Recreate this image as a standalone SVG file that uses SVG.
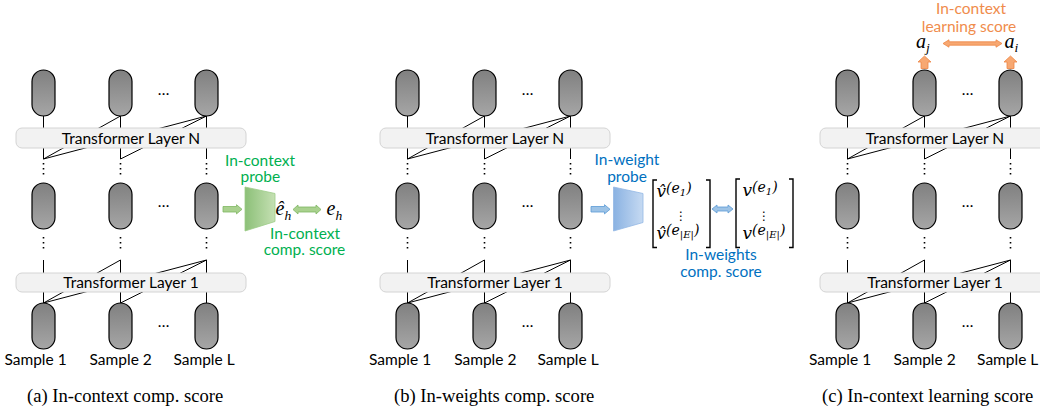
<svg xmlns="http://www.w3.org/2000/svg" width="1040" height="408" viewBox="0 0 1040 408">
<defs>
<linearGradient id="pillG" x1="0" y1="0" x2="0" y2="1"><stop offset="0" stop-color="#808080"/><stop offset="1" stop-color="#a6a6a6"/></linearGradient>
<linearGradient id="greenG" x1="0" y1="0" x2="1" y2="0"><stop offset="0" stop-color="#8cc078"/><stop offset="1" stop-color="#c5e0b3"/></linearGradient>
<linearGradient id="blueG" x1="0" y1="0" x2="1" y2="0"><stop offset="0" stop-color="#8ab2e2"/><stop offset="1" stop-color="#c6daf2"/></linearGradient>
</defs>
<style>
.pill{fill:url(#pillG);stroke:#000;stroke-width:1.2}
.layer{fill:#f2f2f2;stroke:#d4d4d4;stroke-width:1}
.ln{fill:none;stroke:#000;stroke-width:1}
.dots{fill:none;stroke:#000;stroke-width:1.6;stroke-dasharray:1.5 3.5}
.t{font-family:Lato,"Liberation Sans",sans-serif;font-size:15.5px;fill:#000}
.mid{text-anchor:middle}
.green{fill:#00b050}
.blue{fill:#0070c0}
.orange{fill:#f08c4c}
.m{font-family:"Liberation Serif","DejaVu Serif",serif;font-style:italic;fill:#000}
.mx{font-family:"DejaVu Serif",serif;font-style:italic;fill:#000}
.vd{font-family:"DejaVu Sans",sans-serif;font-size:12px;text-anchor:middle;fill:#000}
.cap{font-family:"Liberation Serif",serif;font-size:18.6px;fill:#000}
.garrow{fill:#a9d18e;stroke:#7fb662;stroke-width:0.8}
.barrow{fill:#9dc3e6;stroke:#5b9bd5;stroke-width:0.8}
.oarrow{fill:#f7a872;stroke:#ee8544;stroke-width:0.8}
.br{fill:none;stroke:#000;stroke-width:1.4}
</style>

<!-- ===== Panel A ===== -->
<g id="panel-a">
 <g id="a-connectors">
  <path class="ln" d="M43.5 116V159M120.5 116V159M120.5 116L43.5 159M206.5 116V159M206.5 116L43.5 159M206.5 116L120.5 159"/>
  <path class="dots" d="M43.5 163V175M120.5 163V175M206.5 163V175M43.5 237V249M120.5 237V249M206.5 237V249"/>
  <path class="ln" d="M43.5 260V303M120.5 260V303M206.5 260V303M120.5 260L43.5 303M206.5 260L43.5 303M206.5 260L120.5 303"/>
 </g>
 <g id="a-layerN"><rect class="layer" x="16" y="128" width="230" height="20" rx="6"/><text class="t mid" x="131" y="143.5">Transformer Layer N</text></g>
 <g id="a-layer1"><rect class="layer" x="16" y="273" width="230" height="19" rx="6"/><text class="t mid" x="131" y="288">Transformer Layer 1</text></g>
 <g id="a-top1"><rect class="pill" x="32" y="70" width="23" height="46" rx="11.5"/></g>
 <g id="a-top2"><rect class="pill" x="109" y="70" width="23" height="46" rx="11.5"/></g>
 <g id="a-top3"><rect class="pill" x="195" y="70" width="23" height="46" rx="11.5"/></g>
 <g id="a-mid1"><rect class="pill" x="32" y="183" width="23" height="46" rx="11.5"/></g>
 <g id="a-mid2"><rect class="pill" x="109" y="183" width="23" height="46" rx="11.5"/></g>
 <g id="a-mid3"><rect class="pill" x="195" y="183" width="23" height="46" rx="11.5"/></g>
 <g id="a-bot1"><rect class="pill" x="32" y="303" width="23" height="46" rx="11.5"/><text class="t mid" x="35.5" y="365">Sample 1</text></g>
 <g id="a-bot2"><rect class="pill" x="109" y="303" width="23" height="46" rx="11.5"/><text class="t mid" x="120.7" y="365">Sample 2</text></g>
 <g id="a-bot3"><rect class="pill" x="195" y="303" width="23" height="46" rx="11.5"/><text class="t mid" x="204" y="365">Sample L</text></g>
 <g id="a-ellipsis"><text class="t mid" x="163.5" y="95">…</text><text class="t mid" x="163.5" y="207">…</text><text class="t mid" x="163.5" y="327">…</text></g>
</g>
<g id="a-probe">
 <polygon points="245,187 275,193.5 275,221.5 245,231" fill="url(#greenG)" stroke="#9ccb86" stroke-width="0.8"/>
 <text class="t mid green" x="260" y="165.5">In-context</text>
 <text class="t mid green" x="260.3" y="181.5">probe</text>
</g>
<g id="a-arrows">
 <path class="garrow" d="M223 206.5H236.5V204.7L242 209.3L236.5 213.9V212H223Z"/>
 <path class="garrow" d="M293 209.5L298 205V207H316V205L321 209.5L316 214V212H298V214Z"/>
</g>
<g id="a-ehat"><text class="m" x="275.5" y="215" font-size="20">ê<tspan font-size="13.5" dy="5">h</tspan></text></g>
<g id="a-e"><text class="m" x="326.5" y="215" font-size="20">e<tspan font-size="13.5" dy="5">h</tspan></text></g>
<g id="a-score"><text class="t mid green" x="305" y="238.5">In-context</text><text class="t mid green" x="304.5" y="254.5">comp. score</text></g>
<g id="a-caption"><text class="cap" x="27" y="402">(a) In-context comp. score</text></g>

<!-- ===== Panel B ===== -->
<g id="panel-b" transform="translate(364,0)">
 <g id="b-connectors">
  <path class="ln" d="M43.5 116V159M120.5 116V159M120.5 116L43.5 159M206.5 116V159M206.5 116L43.5 159M206.5 116L120.5 159"/>
  <path class="dots" d="M43.5 163V175M120.5 163V175M206.5 163V175M43.5 237V249M120.5 237V249M206.5 237V249"/>
  <path class="ln" d="M43.5 260V303M120.5 260V303M206.5 260V303M120.5 260L43.5 303M206.5 260L43.5 303M206.5 260L120.5 303"/>
 </g>
 <g id="b-layerN"><rect class="layer" x="16" y="128" width="230" height="20" rx="6"/><text class="t mid" x="131" y="143.5">Transformer Layer N</text></g>
 <g id="b-layer1"><rect class="layer" x="16" y="273" width="230" height="19" rx="6"/><text class="t mid" x="131" y="288">Transformer Layer 1</text></g>
 <g id="b-top1"><rect class="pill" x="32" y="70" width="23" height="46" rx="11.5"/></g>
 <g id="b-top2"><rect class="pill" x="109" y="70" width="23" height="46" rx="11.5"/></g>
 <g id="b-top3"><rect class="pill" x="195" y="70" width="23" height="46" rx="11.5"/></g>
 <g id="b-mid1"><rect class="pill" x="32" y="183" width="23" height="46" rx="11.5"/></g>
 <g id="b-mid2"><rect class="pill" x="109" y="183" width="23" height="46" rx="11.5"/></g>
 <g id="b-mid3"><rect class="pill" x="195" y="183" width="23" height="46" rx="11.5"/></g>
 <g id="b-bot1"><rect class="pill" x="32" y="303" width="23" height="46" rx="11.5"/><text class="t mid" x="36" y="365">Sample 1</text></g>
 <g id="b-bot2"><rect class="pill" x="109" y="303" width="23" height="46" rx="11.5"/><text class="t mid" x="121.3" y="365">Sample 2</text></g>
 <g id="b-bot3"><rect class="pill" x="195" y="303" width="23" height="46" rx="11.5"/><text class="t mid" x="204" y="365">Sample L</text></g>
 <g id="b-ellipsis"><text class="t mid" x="163.5" y="95">…</text><text class="t mid" x="163.5" y="207">…</text><text class="t mid" x="163.5" y="327">…</text></g>
</g>
<g id="b-probe">
 <polygon points="613.5,187 643,193.5 643,222.5 613.5,231" fill="url(#blueG)" stroke="#93b8e4" stroke-width="0.8"/>
 <text class="t mid blue" x="627" y="165">In-weight</text>
 <text class="t mid blue" x="627" y="181.5">probe</text>
</g>
<g id="b-arrows">
 <path class="barrow" d="M591 206.5H604.5V204.7L610 209.3L604.5 213.9V212H591Z"/>
 <path class="barrow" d="M712 209L717 205V207H728V205L733 209L728 213V211H717V213Z"/>
</g>
<g id="b-pred">
 <path class="br" d="M657 180H653V247.5H657M706 180H710V247.5H706"/>
 <text class="mx" x="656.5" y="197" font-size="17">v̂<tspan font-size="14" dy="-4">(e</tspan><tspan font-size="10" dy="3">1</tspan><tspan font-size="14" dy="-3">)</tspan></text>
 <text class="vd" x="681" y="220">⋮</text>
 <text class="mx" x="656.5" y="238.5" font-size="17">v̂<tspan font-size="14" dy="-4">(e</tspan><tspan font-size="10" dy="3">|E|</tspan><tspan font-size="14" dy="-3">)</tspan></text>
</g>
<g id="b-true">
 <path class="br" d="M740 179H736V247.5H740M789 179H793V247.5H789"/>
 <text class="mx" x="742.5" y="196" font-size="17">v<tspan font-size="14" dy="-4">(e</tspan><tspan font-size="10" dy="3">1</tspan><tspan font-size="14" dy="-3">)</tspan></text>
 <text class="vd" x="764" y="220">⋮</text>
 <text class="mx" x="742.5" y="238.5" font-size="17">v<tspan font-size="14" dy="-4">(e</tspan><tspan font-size="10" dy="3">|E|</tspan><tspan font-size="14" dy="-3">)</tspan></text>
</g>
<g id="b-score"><text class="t mid blue" x="721" y="259.5">In-weights</text><text class="t mid blue" x="721" y="276.5">comp. score</text></g>
<g id="b-caption"><text class="cap" x="394" y="402">(b) In-weights comp. score</text></g>

<!-- ===== Panel C ===== -->
<g id="panel-c" transform="translate(804,0)">
 <g id="c-connectors">
  <path class="ln" d="M43.5 116V159M120.5 116V159M120.5 116L43.5 159M206.5 116V159M206.5 116L43.5 159M206.5 116L120.5 159"/>
  <path class="dots" d="M43.5 163V175M120.5 163V175M206.5 163V175M43.5 237V249M120.5 237V249M206.5 237V249"/>
  <path class="ln" d="M43.5 260V303M120.5 260V303M206.5 260V303M120.5 260L43.5 303M206.5 260L43.5 303M206.5 260L120.5 303"/>
 </g>
 <g id="c-layerN"><rect class="layer" x="16" y="128" width="230" height="20" rx="6"/><text class="t mid" x="131" y="143.5">Transformer Layer N</text></g>
 <g id="c-layer1"><rect class="layer" x="16" y="273" width="230" height="19" rx="6"/><text class="t mid" x="131" y="288">Transformer Layer 1</text></g>
 <g id="c-top1"><rect class="pill" x="32" y="70" width="23" height="46" rx="11.5"/></g>
 <g id="c-top2"><rect class="pill" x="109" y="70" width="23" height="46" rx="11.5"/></g>
 <g id="c-top3"><rect class="pill" x="195" y="70" width="23" height="46" rx="11.5"/></g>
 <g id="c-mid1"><rect class="pill" x="32" y="183" width="23" height="46" rx="11.5"/></g>
 <g id="c-mid2"><rect class="pill" x="109" y="183" width="23" height="46" rx="11.5"/></g>
 <g id="c-mid3"><rect class="pill" x="195" y="183" width="23" height="46" rx="11.5"/></g>
 <g id="c-bot1"><rect class="pill" x="32" y="303" width="23" height="46" rx="11.5"/><text class="t mid" x="36" y="365">Sample 1</text></g>
 <g id="c-bot2"><rect class="pill" x="109" y="303" width="23" height="46" rx="11.5"/><text class="t mid" x="120.5" y="365">Sample 2</text></g>
 <g id="c-bot3"><rect class="pill" x="195" y="303" width="23" height="46" rx="11.5"/><text class="t mid" x="203.7" y="365">Sample L</text></g>
 <g id="c-ellipsis"><text class="t mid" x="163.5" y="95">…</text><text class="t mid" x="163.5" y="207">…</text><text class="t mid" x="163.5" y="327">…</text></g>
</g>
<g id="c-arrows">
 <path class="oarrow" d="M924.5 56L931 62H928V68.5H921V62H918Z"/>
 <path class="oarrow" d="M1010.5 56L1017 62H1014V68.5H1007V62H1004Z"/>
 <path class="oarrow" d="M943 43.5L949 39.8V41.8H996V39.8L1002 43.5L996 47.2V45.2H949V47.2Z"/>
</g>
<g id="c-aj"><text class="m" x="916" y="48" font-size="20">a<tspan font-size="13.5" dy="4">j</tspan></text></g>
<g id="c-ai"><text class="m" x="1004.5" y="48" font-size="20">a<tspan font-size="13.5" dy="4">i</tspan></text></g>
<g id="c-score"><text class="t mid orange" x="971" y="13.5">In-context</text><text class="t mid orange" x="969" y="31.5">learning score</text></g>
<g id="c-caption"><text class="cap" x="822" y="402">(c) In-context learning score</text></g>
</svg>
